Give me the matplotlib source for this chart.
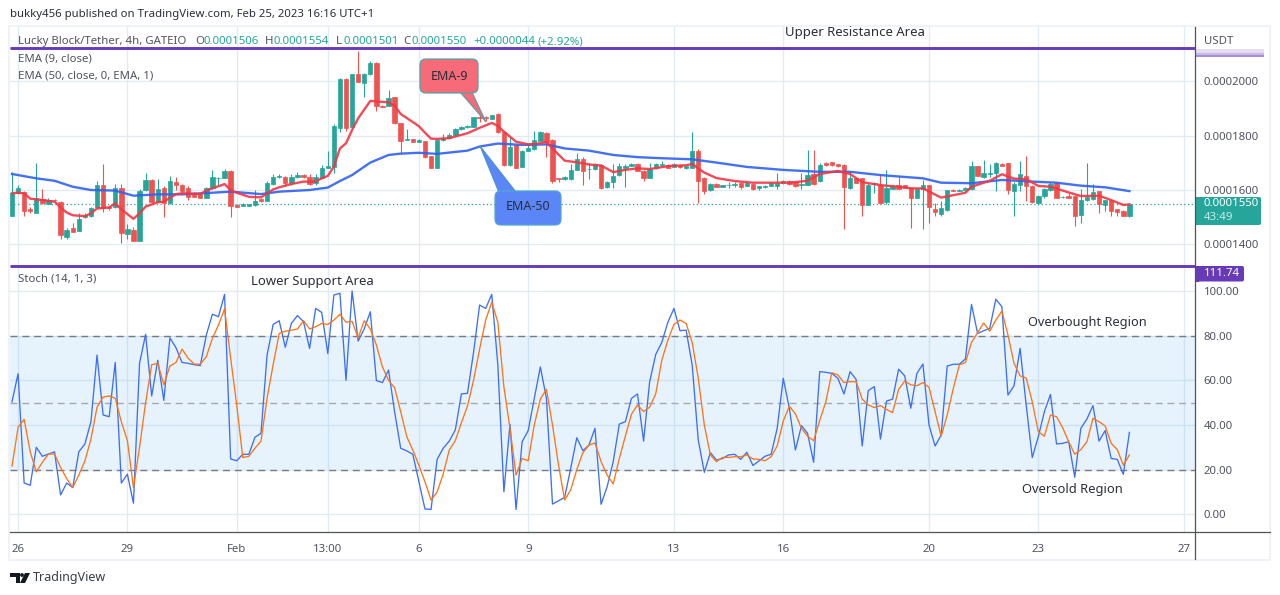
import matplotlib
matplotlib.use('Agg')
import matplotlib.pyplot as plt
import numpy as np
from matplotlib.patches import FancyBboxPatch, Polygon, Rectangle, Circle

plt.rcParams['font.family'] = ['Noto Sans', 'DejaVu Sans']

# prices in units of 0.0000001, one row is 10 bars
opens = [1504, 1590, 1594, 1530, 1517, 1566, 1550, 1563, 1557, 1428,
         1460, 1450, 1502, 1505, 1536, 1618, 1536, 1536, 1606, 1438,
         1453, 1413, 1600, 1637, 1557, 1606, 1551, 1629, 1618, 1606,
         1588, 1584, 1572, 1606, 1644, 1645, 1670, 1545, 1542, 1542,
         1545, 1566, 1560, 1622, 1647, 1649, 1627, 1647, 1655, 1647,
         1625, 1645, 1682, 1686, 1827, 2009, 1831, 2026, 1995, 2027,
         2069, 1910, 1910, 1942, 1845, 1785, 1786, 1778, 1779, 1725,
         1682, 1784, 1790, 1802, 1824, 1832, 1833, 1868, 1868, 1862,
         1880, 1815, 1692, 1766, 1685, 1745, 1750, 1782, 1810, 1784,
         1644, 1639, 1640, 1675, 1714, 1676, 1677, 1693, 1611, 1629,
         1656, 1682, 1690, 1696, 1671, 1645, 1680, 1693, 1692, 1685,
         1693, 1680, 1682, 1744, 1646, 1600, 1622, 1612, 1618, 1620,
         1627, 1616, 1623, 1606, 1610, 1615, 1615, 1625, 1634, 1628,
         1617, 1620, 1659, 1632, 1700, 1702, 1695, 1693, 1608, 1643,
         1643, 1546, 1622, 1620, 1556, 1605, 1618, 1618, 1608, 1572,
         1604, 1618, 1530, 1512, 1526, 1600, 1598, 1600, 1602, 1688,
         1648, 1660, 1661, 1696, 1699, 1596, 1618, 1652, 1615, 1551,
         1578, 1599, 1624, 1573, 1578, 1578, 1509, 1563, 1567, 1596,
         1545, 1563, 1529, 1523, 1506]
closes = [1590, 1606, 1524, 1523, 1569, 1551, 1563, 1562, 1434, 1453,
          1447, 1492, 1508, 1532, 1618, 1532, 1532, 1606, 1440, 1455,
          1413, 1598, 1637, 1557, 1604, 1551, 1633, 1618, 1596, 1575,
          1575, 1572, 1606, 1647, 1645, 1671, 1542, 1538, 1548, 1548,
          1560, 1560, 1627, 1647, 1652, 1627, 1647, 1655, 1647, 1622,
          1647, 1682, 1688, 1836, 2009, 1827, 2026, 1999, 2027, 2066,
          1909, 1907, 1937, 1845, 1782, 1788, 1778, 1784, 1723, 1682,
          1784, 1790, 1802, 1824, 1832, 1836, 1867, 1866, 1866, 1875,
          1812, 1692, 1760, 1682, 1745, 1755, 1784, 1815, 1778, 1633,
          1639, 1648, 1674, 1714, 1671, 1678, 1694, 1609, 1629, 1652,
          1688, 1688, 1695, 1671, 1644, 1676, 1695, 1696, 1682, 1695,
          1683, 1687, 1744, 1634, 1595, 1623, 1612, 1618, 1620, 1621,
          1612, 1626, 1602, 1614, 1616, 1625, 1625, 1634, 1622, 1614,
          1622, 1654, 1622, 1693, 1692, 1691, 1687, 1610, 1643, 1626,
          1545, 1620, 1627, 1552, 1608, 1615, 1605, 1608, 1572, 1604,
          1618, 1539, 1520, 1534, 1599, 1598, 1600, 1607, 1688, 1653,
          1661, 1662, 1699, 1690, 1600, 1622, 1658, 1615, 1556, 1578,
          1604, 1622, 1572, 1576, 1572, 1505, 1563, 1575, 1592, 1550,
          1563, 1522, 1519, 1506, 1550]
highs = [1667, 1618, 1596, 1536, 1698, 1602, 1570, 1566, 1560, 1460,
         1480, 1516, 1515, 1538, 1634, 1696, 1540, 1622, 1622, 1475,
         1463, 1605, 1661, 1642, 1640, 1613, 1653, 1649, 1622, 1615,
         1592, 1590, 1610, 1674, 1648, 1678, 1672, 1547, 1552, 1550,
         1600, 1570, 1634, 1659, 1660, 1652, 1659, 1665, 1658, 1660,
         1659, 1693, 1744, 1843, 2011, 2011, 2028, 2113, 2029, 2074,
         2071, 1912, 1968, 1944, 1847, 1823, 1788, 1786, 1781, 1727,
         1790, 1808, 1810, 1830, 1835, 1838, 1870, 1880, 1873, 1877,
         1882, 1817, 1796, 1768, 1748, 1768, 1817, 1817, 1815, 1786,
         1646, 1650, 1695, 1737, 1723, 1698, 1700, 1695, 1634, 1694,
         1698, 1694, 1700, 1700, 1673, 1698, 1700, 1705, 1696, 1700,
         1696, 1690, 1813, 1750, 1648, 1625, 1624, 1620, 1628, 1629,
         1630, 1628, 1626, 1616, 1618, 1627, 1663, 1636, 1636, 1630,
         1663, 1748, 1748, 1700, 1702, 1704, 1697, 1695, 1671, 1645,
         1645, 1625, 1630, 1658, 1674, 1618, 1652, 1620, 1610, 1606,
         1636, 1620, 1551, 1561, 1601, 1602, 1602, 1610, 1705, 1690,
         1710, 1694, 1703, 1698, 1701, 1630, 1707, 1725, 1617, 1580,
         1606, 1630, 1628, 1578, 1590, 1580, 1604, 1699, 1622, 1598,
         1565, 1565, 1531, 1527, 1554]
lows = [1504, 1585, 1504, 1514, 1515, 1549, 1549, 1560, 1418, 1418,
        1445, 1448, 1498, 1502, 1534, 1520, 1526, 1534, 1404, 1418,
        1411, 1411, 1597, 1554, 1555, 1502, 1549, 1600, 1590, 1563,
        1573, 1570, 1570, 1604, 1620, 1643, 1502, 1536, 1540, 1540,
        1543, 1556, 1558, 1620, 1645, 1615, 1618, 1645, 1645, 1620,
        1620, 1643, 1680, 1664, 1815, 1818, 1829, 1997, 1944, 2025,
        1892, 1904, 1908, 1843, 1733, 1783, 1776, 1776, 1718, 1680,
        1680, 1782, 1788, 1800, 1822, 1830, 1831, 1849, 1855, 1860,
        1810, 1690, 1690, 1680, 1683, 1743, 1748, 1780, 1723, 1625,
        1630, 1637, 1638, 1673, 1620, 1640, 1675, 1605, 1608, 1608,
        1650, 1610, 1688, 1669, 1635, 1643, 1678, 1685, 1680, 1683,
        1681, 1678, 1680, 1553, 1587, 1598, 1610, 1610, 1608, 1612,
        1605, 1614, 1600, 1600, 1608, 1613, 1604, 1623, 1620, 1612,
        1605, 1618, 1620, 1630, 1690, 1689, 1685, 1457, 1602, 1624,
        1505, 1544, 1590, 1550, 1550, 1603, 1603, 1606, 1461, 1570,
        1458, 1480, 1505, 1506, 1524, 1596, 1596, 1598, 1600, 1650,
        1646, 1647, 1598, 1688, 1584, 1505, 1595, 1560, 1554, 1545,
        1570, 1595, 1570, 1571, 1570, 1469, 1480, 1561, 1565, 1517,
        1524, 1505, 1505, 1504, 1501]

ema9_bars = [0, 1, 2, 3, 5, 7, 8, 9, 10, 12, 13, 14, 16, 17, 18, 20, 21, 22, 24, 25,
             27, 28, 31, 32, 33, 35, 36, 37, 39, 41, 43, 44, 46, 48, 50, 51, 52, 53, 54, 55,
             56, 57, 59, 60, 62, 63, 64, 67, 68, 69, 70, 72, 75, 77, 79, 80, 81, 83, 85, 87,
             88, 89, 91, 93, 95, 97, 99, 101, 103, 105, 108, 111, 112, 114, 116, 119, 121, 122, 126, 128,
             131, 133, 136, 138, 140, 143, 146, 148, 150, 153, 155, 157, 158, 161, 163, 165, 167, 169, 171, 174,
             176, 179, 181, 183, 184]
ema9_vals = [1588, 1590, 1588, 1568, 1563, 1557, 1536, 1517, 1507, 1504, 1514, 1532, 1536, 1551, 1529, 1494, 1514, 1539, 1555, 1557,
             1585, 1588, 1585, 1598, 1606, 1622, 1600, 1590, 1575, 1573, 1602, 1610, 1622, 1631, 1631, 1643, 1652, 1686, 1753, 1772,
             1821, 1864, 1928, 1926, 1923, 1910, 1880, 1835, 1811, 1789, 1788, 1791, 1809, 1829, 1847, 1836, 1815, 1778, 1768, 1772,
             1778, 1753, 1708, 1702, 1694, 1690, 1666, 1674, 1680, 1677, 1688, 1691, 1696, 1664, 1644, 1633, 1629, 1627, 1627, 1627,
             1634, 1659, 1670, 1659, 1629, 1618, 1612, 1606, 1606, 1572, 1581, 1590, 1612, 1634, 1658, 1642, 1640, 1615, 1612, 1591,
             1578, 1579, 1563, 1545, 1547]
ema50_bars = [0, 4, 7, 10, 13, 17, 20, 24, 28, 33, 36, 41, 44, 49, 52, 54, 56, 59, 62, 64, 67,
              70, 75, 77, 80, 84, 88, 91, 95, 99, 103, 107, 112, 116, 121,
              127, 133, 138, 143, 150, 153, 158, 163, 168, 172, 176, 180, 184]
ema50_vals = [1659, 1643, 1634, 1612, 1600, 1598, 1579, 1584, 1584, 1590, 1594, 1585, 1594, 1600, 1609, 1633, 1655, 1701, 1729, 1734, 1737,
              1733, 1745, 1760, 1771, 1766, 1768, 1753, 1745, 1729, 1721, 1717, 1713, 1701, 1685,
              1674, 1667, 1667, 1655, 1643, 1627, 1625, 1637, 1631, 1627, 1616, 1610, 1596]

stoch_k = [50.4, 63.0, 14.0, 13.0, 30.0, 26.0, 27.0, 28.0, 8.7, 14.0,
           12.0, 28.0, 31.5, 41.5, 71.3, 44.5, 43.7, 68.0, 14.0, 18.0,
           5.0, 67.6, 80.6, 53.0, 69.0, 51.0, 79.0, 74.6, 68.0, 67.6,
           67.0, 66.6, 80.3, 89.6, 88.5, 98.5, 24.8, 24.0, 26.9, 26.9,
           34.5, 36.3, 71.3, 85.0, 86.7, 74.8, 85.5, 89.0, 86.3, 74.3,
           92.2, 90.4, 72.0, 98.2, 99.0, 60.0, 100.0, 77.6, 83.0, 90.7,
           59.9, 59.0, 64.6, 46.0, 29.6, 28.4, 26.9, 14.6, 2.4, 2.2,
           24.6, 29.6, 32.8, 37.8, 53.9, 54.2, 72.5, 93.7, 92.2, 98.5,
           66.9, 10.1, 40.4, 2.2, 32.5, 37.5, 51.9, 66.0, 52.0, 4.6,
           6.1, 7.6, 20.6, 34.3, 28.5, 31.0, 38.5, 4.5, 12.4, 23.6,
           40.4, 41.5, 51.9, 53.9, 32.8, 59.4, 71.6, 77.0, 86.0, 92.2,
           82.2, 82.5, 66.9, 33.3, 18.8, 27.6, 24.3, 25.0, 26.6, 26.9,
           24.6, 27.8, 21.9, 23.9, 26.0, 26.9, 38.5, 60.9, 47.5, 28.8,
           39.7, 36.3, 23.3, 63.9, 63.6, 63.1, 60.9, 53.9, 63.9, 60.4,
           30.6, 55.4, 57.2, 33.7, 50.7, 51.6, 65.0, 62.0, 47.5, 63.1,
           67.3, 40.0, 30.6, 35.5, 66.4, 67.2, 67.2, 69.6, 94.0, 81.0,
           82.2, 83.3, 96.3, 93.0, 53.4, 57.6, 74.3, 49.0, 25.4, 34.8,
           46.0, 53.7, 31.5, 31.8, 32.5, 16.6, 38.5, 42.7, 48.7, 32.8,
           37.5, 25.0, 24.6, 17.9, 36.7]
stoch_d = [21.6, 39.0, 42.5, 28.0, 19.0, 23.3, 27.0, 27.0, 21.0, 16.0,
           12.0, 17.6, 23.9, 33.7, 48.0, 52.5, 53.0, 52.0, 41.5, 33.0,
           12.0, 30.0, 50.0, 67.0, 67.6, 58.0, 66.4, 68.0, 74.0, 69.9,
           67.3, 67.2, 70.6, 78.8, 84.8, 92.0, 70.0, 49.0, 25.4, 26.0,
           29.6, 32.8, 52.0, 67.0, 81.0, 82.0, 82.4, 83.0, 86.7, 83.0,
           84.0, 85.5, 85.0, 87.0, 89.6, 86.0, 86.4, 79.0, 86.7, 83.0,
           75.8, 66.0, 60.0, 56.7, 46.0, 34.8, 28.8, 22.0, 14.6, 6.4,
           10.0, 18.0, 28.8, 33.0, 41.0, 48.5, 60.0, 74.0, 87.0, 95.0,
           86.0, 57.0, 38.5, 17.6, 25.0, 24.0, 40.0, 51.6, 56.0, 40.0,
           22.0, 6.4, 11.0, 20.0, 27.6, 31.0, 32.0, 23.6, 17.6, 13.6,
           25.0, 35.0, 44.8, 49.0, 46.0, 48.0, 54.0, 69.0, 78.0, 85.0,
           87.0, 85.5, 77.0, 61.0, 40.0, 26.6, 23.6, 25.5, 25.5, 25.8,
           25.8, 26.6, 24.8, 24.6, 24.0, 25.8, 30.6, 41.8, 48.4, 45.0,
           38.5, 35.0, 33.0, 42.0, 50.4, 63.4, 62.4, 59.0, 59.4, 59.4,
           51.6, 49.0, 47.8, 48.7, 47.0, 45.5, 56.0, 59.7, 58.0, 57.6,
           59.0, 56.9, 46.0, 35.0, 44.5, 56.4, 66.9, 68.0, 77.0, 81.3,
           85.7, 82.0, 87.0, 91.0, 80.3, 67.6, 62.0, 61.0, 50.4, 37.0,
           35.0, 44.5, 43.7, 38.8, 32.5, 26.9, 29.0, 32.5, 43.0, 41.5,
           39.6, 31.8, 29.0, 22.0, 26.6]

time_ticks = [1, 19, 37, 52, 67, 85, 109, 127, 151, 169, 193]
time_labels = ['26', '29', 'Feb', '13:00', '6', '9', '13', '16', '20', '23', '27']
price_ticks = [1400, 1600, 1800, 2000]
stoch_ticks = [0, 20, 40, 60, 80, 100]
last_close = closes[-1]

UP = '#26a69a'
DOWN = '#ef5350'
GRID = '#e1ecf2'
AXIS = '#50535e'
TEXT = '#50535e'
UNIT = 1e-7

W, H = 1280, 595


def axes_at(x0, y0, x1, y1):
    # pixel box, y going down
    return fig.add_axes([x0 / W, 1 - y1 / H, (x1 - x0) / W, (y1 - y0) / H])


fig = plt.figure(figsize=(W / 100, H / 100), dpi=100, facecolor='white')

ax1 = axes_at(10, 27, 1195, 265)
ax2 = axes_at(10, 265, 1195, 532)

bars = np.arange(len(closes))
o = np.array(opens) * UNIT
c = np.array(closes) * UNIT
colors = [UP if b >= a else DOWN for a, b in zip(o, c)]

ax1.vlines(bars, np.array(lows) * UNIT, np.array(highs) * UNIT, colors=colors, lw=0.8, zorder=3)
ax1.bar(bars, np.abs(c - o), bottom=np.minimum(o, c), width=0.72, color=colors,
        edgecolor=colors, lw=0.5, zorder=3)
ax1.plot(ema50_bars, np.array(ema50_vals) * UNIT, color='#2f62f0', lw=1.7, alpha=0.9, zorder=4)
ax1.plot(ema9_bars, np.array(ema9_vals) * UNIT, color='#f23645', lw=1.7, alpha=0.9, zorder=5)
ax1.axhline(last_close * UNIT, color=UP, lw=0.9, ls=(0, (1, 2)), zorder=2)

ax2.axhspan(20, 80, color='#2196f3', alpha=0.11, lw=0, zorder=1)
ax2.axhline(80, color='#787b86', lw=1, ls=(0, (5, 3.5)), zorder=2)
ax2.axhline(50, color='#a5a8b2', lw=1, ls=(0, (5, 3.5)), zorder=2)
ax2.axhline(20, color='#787b86', lw=1, ls=(0, (5, 3.5)), zorder=2)
ax2.plot(bars, stoch_k, color='#3d6ff5', lw=0.95, zorder=3)
ax2.plot(bars, stoch_d, color='#ff7417', lw=0.95, zorder=4)

ax1.set_ylim(1324 * UNIT, 2200 * UNIT)
ax2.set_ylim(-7.9, 111.64)
ax1.set_yticks([v * UNIT for v in price_ticks])
ax1.set_yticklabels([f'{v * UNIT:.7f}' for v in price_ticks])
ax2.set_yticks(stoch_ticks)
ax2.set_yticklabels([f'{v:.2f}' for v in stoch_ticks])

for ax in (ax1, ax2):
    ax.set_xlim(-0.33, 194.8)
    ax.set_xticks(time_ticks)
    ax.grid(True, color=GRID, lw=1, zorder=0)
    ax.set_axisbelow(True)
    ax.yaxis.tick_right()
    ax.tick_params(axis='y', length=0, pad=6.2, labelsize=8.2, labelcolor=TEXT)
    for s in ('top', 'left', 'bottom', 'right'):
        ax.spines[s].set_visible(False)

ax1.tick_params(axis='x', length=0, labelbottom=False)
ax2.set_xticklabels(time_labels)
ax2.tick_params(axis='x', length=0, pad=9, labelsize=8.2, labelcolor=TEXT)

# overlay in pixels for the frame, drawings and labels
ov = fig.add_axes([0, 0, 1, 1], zorder=10)
ov.set_xlim(0, W)
ov.set_ylim(H, 0)
ov.axis('off')
ov.patch.set_alpha(0)

# light frame round the chart
for r in [(8, 25, 1263, 2), (8, 559, 1263, 2), (8, 25, 2, 536), (1269, 25, 2, 536)]:
    ov.add_patch(Rectangle(r[:2], r[2], r[3], color='#eff2f8', lw=0))

# axis lines run out to the frame
ov.plot([10, 1270], [532, 532], color=AXIS, lw=0.9)
ov.plot([1194.5, 1194.5], [27, 559], color=AXIS, lw=0.9)

# drawn level lines
ov.plot([10, 1195], [48, 48], color='#673ab7', lw=2.1, solid_capstyle='butt')
ov.plot([10, 1195], [265.5, 265.5], color='#673ab7', lw=2.1, solid_capstyle='butt')


def label(x, y, s, color=TEXT, size=8.2, **kw):
    ov.text(x, y, s, color=color, fontsize=size, va='center', ha=kw.pop('ha', 'left'), **kw)


label(10, 15, 'bukky456 published on TradingView.com, Feb 25, 2023 16:16 UTC+1', color='#2a2e39')
label(18, 41.5, 'Lucky Block/Tether, 4h, GATEIO')
for x, s in [(195, 'O'), (265, 'H'), (336, 'L'), (403, 'C')]:
    label(x, 41.5, s)
for x, s in [(204, '0.0001506'), (273, '0.0001554'), (343, '0.0001501'), (412, '0.0001550'),
             (473, '+0.0000044'), (538, '(+2.92%)')]:
    label(x, 41.5, s, color=UP)
label(18, 59, 'EMA (9, close)')
label(18, 76, 'EMA (50, close, 0, EMA, 1)')
label(18, 279, 'Stoch (14, 1, 3)')
label(785, 32.5, 'Upper Resistance Area', color='#2a2e39', size=9.5)
label(251, 281, 'Lower Support Area', color='#2a2e39', size=9.4)
label(1028, 322.5, 'Overbought Region', color='#2a2e39', size=9.2)
label(1022, 489.5, 'Oversold Region', color='#2a2e39', size=9.3)
label(1204, 41, 'USDT')

# axis labels on the right
ov.add_patch(Rectangle((1195, 49), 69, 3.5, color='#e4dcf2', lw=0))
ov.add_patch(Rectangle((1195, 52.5), 69, 2.5, color='#c9b8e6', lw=0))
ov.add_patch(Rectangle((1195, 55), 69, 2, color='#a68fd8', lw=0))
ov.add_patch(FancyBboxPatch((1197, 197), 64, 28, boxstyle='round,pad=0,rounding_size=2', color=UP, lw=0))
ov.add_patch(Rectangle((1195, 197), 4, 28, color=UP, lw=0))
label(1204, 203.5, '0.0001550', color='white', size=8.2, fontweight='bold')
label(1204, 217.5, '43:49', color='#c8ebe7')
ov.add_patch(FancyBboxPatch((1197, 266), 47, 15.5, boxstyle='round,pad=0,rounding_size=2', color='#673ab7', lw=0))
ov.add_patch(Rectangle((1195, 266), 4, 15.5, color='#673ab7', lw=0))
label(1204, 273.5, '111.74', color='white', fontweight='bold')

# callouts
ov.add_patch(Polygon([(470, 88), (486, 122), (460, 92)], fc='#f76a78', ec='#5a9ea6', lw=0.8, zorder=5))
ov.add_patch(FancyBboxPatch((420, 59), 58, 34, boxstyle='round,pad=0,rounding_size=6',
                            fc='#f76a78', ec='#4fa7ad', lw=0.9, zorder=6))
label(449, 76, 'EMA-9', color='#2a2e39', size=9.0, ha='center', zorder=7)
ov.add_patch(Polygon([(480, 146), (500, 195), (516, 192)], fc='#5b86f7', ec='#4f93c8', lw=0.8, zorder=5))
ov.add_patch(FancyBboxPatch((495, 191), 66, 34, boxstyle='round,pad=0,rounding_size=6',
                            fc='#5b86f7', ec='#4fa7d0', lw=0.9, zorder=6))
label(528, 207, 'EMA-50', color='#2a2e39', size=9.0, ha='center', zorder=7)

# TradingView logo
ov.add_patch(Polygon([(10, 573), (19.5, 573), (19.5, 583), (15.5, 583), (15.5, 577), (10, 577)], color='#131722', lw=0))
ov.add_patch(Circle((22, 575), 1.9, color='#131722', lw=0))
ov.add_patch(Polygon([(25, 573), (30, 573), (25, 583), (20, 583)], color='#131722', lw=0))
label(33, 577, 'TradingView', color='#3a3e49', size=9.0)

plt.savefig('out.png', dpi=100)
